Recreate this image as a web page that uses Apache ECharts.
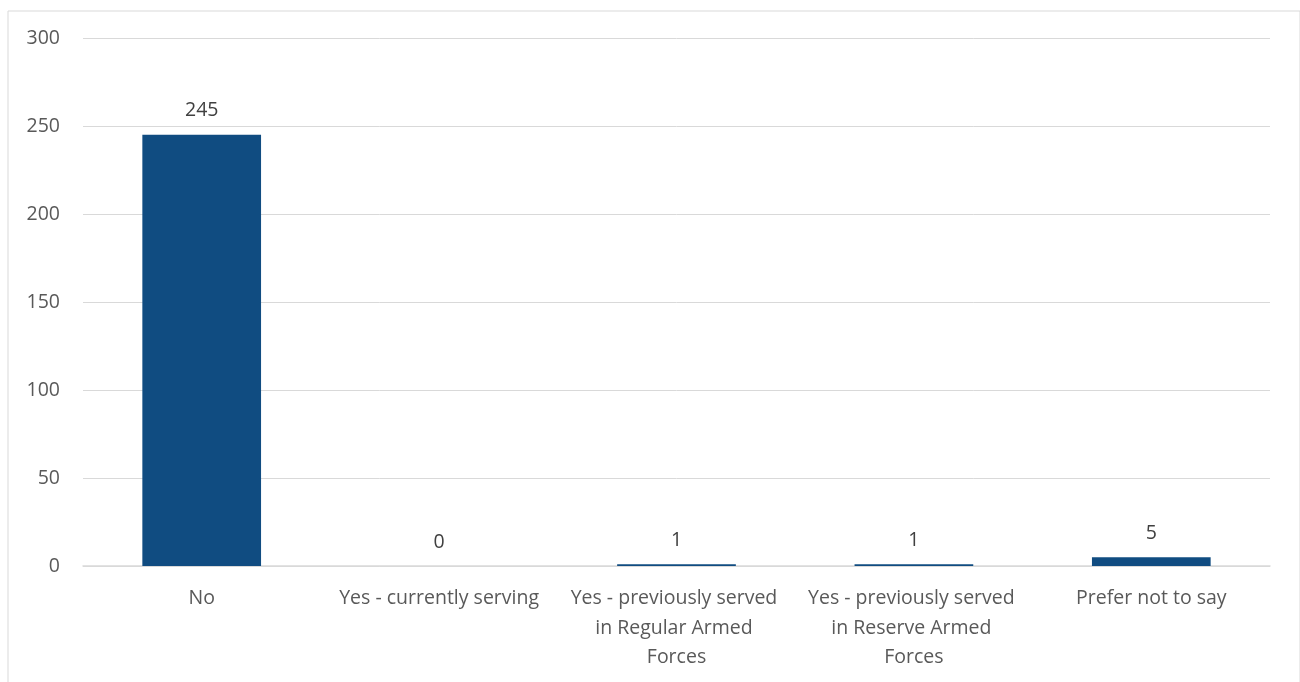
<!DOCTYPE html>
<html>
<head>
<meta charset="utf-8">
<script src="https://cdn.jsdelivr.net/npm/echarts@6/dist/echarts.min.js"></script>
<style>
html,body{margin:0;padding:0;background:#fff;}
#chart{width:1300px;height:682px;}
</style>
</head>
<body>
<div id="chart"></div>
<script>
const categories = ["No", "Yes - currently serving", "Yes - previously served in Regular Armed Forces", "Yes - previously served in Reserve Armed Forces", "Prefer not to say"];
const values = [245, 0, 1, 1, 5];
const yTicks = { min: 0, max: 300, interval: 50 };

const chart = echarts.init(document.getElementById('chart'), null, { renderer: 'canvas' });
const FONT = '"Open Sans", "Liberation Sans", sans-serif';
chart.setOption({
  backgroundColor: '#fff',
  animation: false,
  graphic: [{
    type: 'rect', left: 5.5, top: 8.5, silent: true,
    shape: { width: 1292, height: 700 },
    style: { fill: 'none', stroke: '#d9d9d9', lineWidth: 1 }
  }],
  grid: { left: 83, right: 30, top: 38, bottom: 116, containLabel: false },
  xAxis: {
    type: 'category',
    data: categories,
    axisLine: { lineStyle: { color: '#d9d9d9', width: 1.5 } },
    axisTick: { show: false },
    axisLabel: {
      color: '#595959', fontFamily: FONT, fontSize: 19.5, margin: 18,
      interval: 0, width: 212, overflow: 'break', lineHeight: 29.5
    }
  },
  yAxis: {
    type: 'value', min: yTicks.min, max: yTicks.max, interval: yTicks.interval,
    axisLine: { show: false }, axisTick: { show: false },
    axisLabel: { color: '#595959', fontFamily: FONT, fontSize: 19.5, margin: 23 },
    splitLine: { lineStyle: { color: '#d9d9d9', width: 1 } }
  },
  series: [{
    type: 'bar', data: values, barWidth: '50%',
    itemStyle: { color: '#104C81' },
    label: { show: true, position: 'top', distance: 14, color: '#404040', fontFamily: FONT, fontSize: 19.5 }
  }]
});
</script>
</body>
</html>
